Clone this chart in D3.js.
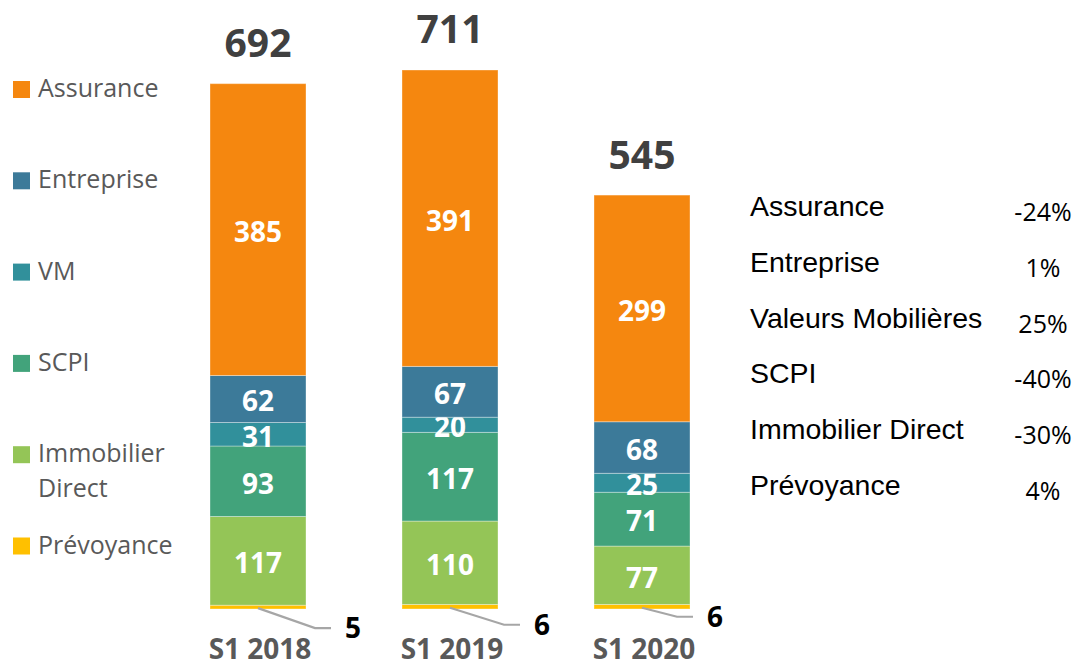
<!DOCTYPE html>
<html>
<head>
<meta charset="utf-8">
<script src="https://cdn.jsdelivr.net/npm/d3@7"></script>
<style>
  body { margin: 0; background: #fff; }
  svg { display: block; }
</style>
</head>
<body>
<svg id="vis" width="1082" height="662"></svg>
<script>
// data
const periods = ["S1 2018", "S1 2019", "S1 2020"];
const keys = ["Prévoyance", "Immobilier Direct", "SCPI", "VM", "Entreprise", "Assurance"];
const prevoyance = [5, 6, 6];
const immobilier = [117, 110, 77];
const scpi = [93, 117, 71];
const vm = [31, 20, 25];
const entreprise = [62, 67, 68];
const assurance = [385, 391, 299];
const totals = [692, 711, 545];

const legendNames = ["Assurance", "Entreprise", "VM", "SCPI", "Immobilier Direct", "Prévoyance"];
const evoNames = ["Assurance", "Entreprise", "Valeurs Mobilières", "SCPI", "Immobilier Direct", "Prévoyance"];
const evoValues = ["-24%", "1%", "25%", "-40%", "-30%", "4%"];

const colors = {
  "Assurance": "#F5870F",
  "Entreprise": "#3C7A99",
  "VM": "#31909B",
  "SCPI": "#42A37B",
  "Immobilier Direct": "#94C557",
  "Prévoyance": "#FFC000"
};

// table for d3.stack
const series = [prevoyance, immobilier, scpi, vm, entreprise, assurance];
const table = periods.map((p, i) => {
  const row = { period: p };
  keys.forEach((k, j) => { row[k] = series[j][i]; });
  return row;
});

const svg = d3.select("#vis");

// scales
const x = d3.scaleBand()
  .domain(periods)
  .range([162, 738])
  .paddingInner(0.5)
  .paddingOuter(0.25);

const y = d3.scaleLinear()
  .domain([0, 711])
  .range([609, 70]);

const stacked = d3.stack().keys(keys)(table);

// bars
const layers = svg.append("g")
  .selectAll("g")
  .data(stacked)
  .join("g")
  .attr("fill", d => colors[d.key]);

layers.selectAll("rect")
  .data(d => d)
  .join("rect")
  .attr("x", d => x(d.data.period))
  .attr("width", x.bandwidth())
  .attr("y", d => y(d[1]))
  .attr("height", d => y(d[0]) - y(d[1]))
  .attr("stroke", "rgba(255,255,255,0.35)")
  .attr("stroke-width", 1);

// values inside segments (not for Prévoyance)
layers.filter(d => d.key !== "Prévoyance")
  .selectAll("text")
  .data(d => d)
  .join("text")
  .attr("x", d => x(d.data.period) + x.bandwidth() / 2)
  .attr("y", d => (y(d[0]) + y(d[1])) / 2)
  .attr("dy", "0.44em")
  .attr("text-anchor", "middle")
  .attr("font-family", "Open Sans")
  .attr("font-weight", "bold")
  .attr("font-size", 28)
  .attr("fill", "#fff")
  .text(d => d[1] - d[0]);

// totals
svg.append("g")
  .selectAll("text")
  .data(periods)
  .join("text")
  .attr("x", d => x(d) + x.bandwidth() / 2)
  .attr("y", (d, i) => y(totals[i]) - 27)
  .attr("text-anchor", "middle")
  .attr("font-family", "Open Sans")
  .attr("font-weight", "bold")
  .attr("font-size", 39)
  .attr("fill", "#404040")
  .text((d, i) => totals[i]);

// leader lines for Prévoyance
const leader = [{ dx: 57, dy: 20 }, { dx: 54, dy: 17 }, { dx: 35, dy: 9 }];
const lg = svg.append("g");
periods.forEach((p, i) => {
  const cx = x(p) + x.bandwidth() / 2;
  const y0 = y(prevoyance[i] / 2) + 1;
  const ex = cx + leader[i].dx, ey = y0 + leader[i].dy;
  lg.append("polyline")
    .attr("points", `${cx},${y0} ${ex},${ey} ${ex + 16},${ey}`)
    .attr("fill", "none")
    .attr("stroke", "#A6A6A6")
    .attr("stroke-width", 2.2);
  lg.append("text")
    .attr("x", ex + 30)
    .attr("y", ey + 10)
    .attr("font-family", "Open Sans")
    .attr("font-weight", "bold")
    .attr("font-size", 28)
    .attr("fill", "#000")
    .text(prevoyance[i]);
});

// category labels
svg.append("g")
  .selectAll("text")
  .data(periods)
  .join("text")
  .attr("x", d => x(d) + x.bandwidth() / 2 + 2)
  .attr("y", 659)
  .attr("text-anchor", "middle")
  .attr("font-family", "Open Sans")
  .attr("font-weight", "bold")
  .attr("font-size", 28)
  .attr("fill", "#595959")
  .text(d => d);

// legend (left)
const legend = svg.append("g")
  .selectAll("g")
  .data(legendNames)
  .join("g")
  .attr("transform", (d, i) => `translate(13,${97 + i * 91.3})`);

legend.append("rect")
  .attr("y", -16)
  .attr("width", 17)
  .attr("height", 17)
  .attr("fill", d => colors[d]);

legend.append("text")
  .attr("x", 25)
  .attr("font-family", "Open Sans")
  .attr("font-size", 25)
  .attr("fill", "#595959")
  .selectAll("tspan")
  .data(d => d === "Immobilier Direct" ? ["Immobilier", "Direct"] : [d])
  .join("tspan")
  .attr("x", 25)
  .attr("dy", (d, i) => i === 0 ? 0 : 35)
  .text(d => d);

// evolution table (right)
const evo = svg.append("g")
  .selectAll("g")
  .data(evoNames)
  .join("g")
  .attr("transform", (d, i) => `translate(0,${216 + i * 55.8})`);

evo.append("text")
  .attr("x", 750)
  .attr("font-family", "Liberation Sans")
  .attr("font-size", 28.5)
  .attr("fill", "#000")
  .text(d => d);

evo.append("text")
  .attr("x", 1043)
  .attr("y", 5)
  .attr("text-anchor", "middle")
  .attr("font-family", "Open Sans")
  .attr("font-size", 25)
  .attr("fill", "#000")
  .text((d, i) => evoValues[i]);
</script>
</body>
</html>
